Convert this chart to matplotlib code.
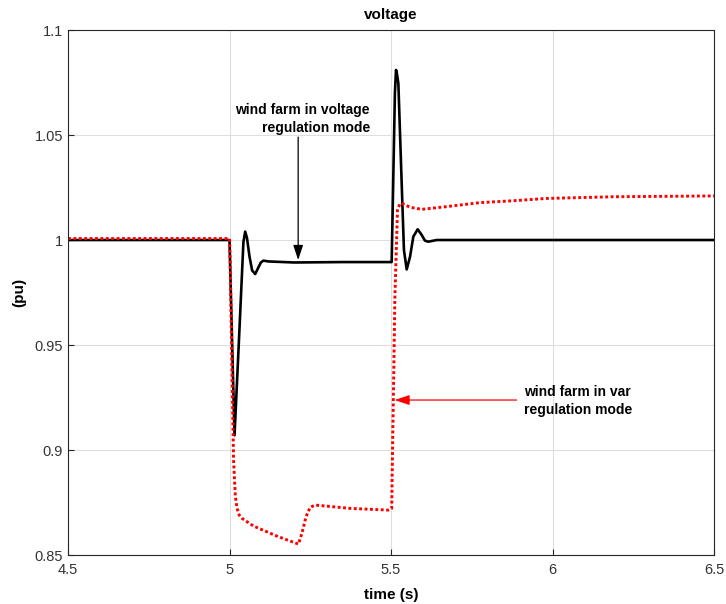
import matplotlib
matplotlib.use("Agg")
import matplotlib.pyplot as plt

plt.rcParams["font.family"] = ["Liberation Sans", "DejaVu Sans"]

# voltage with wind farm in voltage regulation mode (black)
t_volt = [4.5, 5.0, 5.004, 5.0155, 5.03, 5.043, 5.0485, 5.054, 5.062, 5.07,
          5.0795, 5.088, 5.097, 5.105, 5.12, 5.2, 5.35, 5.502, 5.512, 5.5155,
          5.519, 5.5227, 5.533, 5.540, 5.5485, 5.5588, 5.569, 5.5825, 5.595,
          5.605, 5.6153, 5.6413, 6.5]
v_volt = [1.0, 1.0, 0.975, 0.907, 0.955, 0.999, 1.004, 1.001, 0.992, 0.9855,
          0.9838, 0.9865, 0.9893, 0.9902, 0.9898, 0.9893, 0.9895, 0.9895, 1.07,
          1.081, 1.0785, 1.0746, 1.027, 0.9952, 0.986, 0.992, 1.0016, 1.0051,
          1.0024, 0.9997, 0.9992, 1.0, 1.0]

# voltage with wind farm in var regulation mode (red dotted)
t_var = [4.5, 5.0, 5.002, 5.0125, 5.018, 5.023, 5.03, 5.0383, 5.0742, 5.1466,
         5.2134, 5.224, 5.237, 5.2496, 5.265, 5.3732, 5.4917, 5.502, 5.512,
         5.52, 5.527, 5.533, 5.5588, 5.595, 5.672, 5.7753, 5.878, 5.981,
         6.1874, 6.5]
v_var = [1.0007, 1.0007, 0.99, 0.895, 0.878, 0.8724, 0.869, 0.8675, 0.8638,
         0.859, 0.8552, 0.8603, 0.8683, 0.8727, 0.8738, 0.8722, 0.8714, 0.8722,
         0.973, 1.0143, 1.0171, 1.0175, 1.0156, 1.0146, 1.0159, 1.0178, 1.0187,
         1.0198, 1.0206, 1.0210]

x_ticks = [4.5, 5, 5.5, 6, 6.5]
y_ticks = [0.85, 0.9, 0.95, 1, 1.05, 1.1]
x_labels = ["4.5", "5", "5.5", "6", "6.5"]
y_labels = ["0.85", "0.9", "0.95", "1", "1.05", "1.1"]

fig = plt.figure(figsize=(7.26, 6.04), dpi=100)
ax = fig.add_axes([0.0937, 0.0811, 0.8898, 0.8692])

ax.plot(t_volt, v_volt, color="black", lw=1.9, solid_joinstyle="round")
ax.plot(t_var, v_var, color="#ff0000", lw=2.1, linestyle=(0, (1, 0.85)))

ax.set_xlim(4.5, 6.5)
ax.set_ylim(0.85, 1.1)
ax.set_xticks(x_ticks)
ax.set_xticklabels(x_labels)
ax.set_yticks(y_ticks)
ax.set_yticklabels(y_labels)
ax.grid(True, color="#dedede", lw=0.8)
ax.set_axisbelow(True)
ax.tick_params(direction="in", length=4, width=0.8, colors="#262626",
               labelcolor="#333333", labelsize=10.5)
ax.tick_params(axis="x", pad=6)
for s in ax.spines.values():
    s.set_color("#262626")
    s.set_linewidth(0.8)

ax.set_title("voltage", fontsize=11, fontweight="bold", pad=8)
ax.set_xlabel("time (s)", fontsize=11, fontweight="bold", labelpad=8)
ax.set_ylabel("(pu)", fontsize=11, fontweight="bold", labelpad=6)

ax.annotate("", xy=(5.2125, 0.9905), xytext=(5.2125, 1.049),
            arrowprops=dict(arrowstyle="-|>,head_length=0.9,head_width=0.3",
                            color="black", lw=0.9, shrinkA=0, shrinkB=0))
ax.text(5.435, 1.0576, "wind farm in voltage\nregulation mode", ha="right",
        va="center", fontsize=10, fontweight="bold", linespacing=1.35)

ax.annotate("", xy=(5.511, 0.9238), xytext=(5.8887, 0.9238),
            arrowprops=dict(arrowstyle="-|>,head_length=0.9,head_width=0.3",
                            color="#ff0000", lw=0.9, shrinkA=0, shrinkB=0))
ax.text(5.911, 0.9233, "wind farm in var\nregulation mode", ha="left",
        va="center", fontsize=10, fontweight="bold", linespacing=1.35)

plt.savefig("out.png", dpi=100)
